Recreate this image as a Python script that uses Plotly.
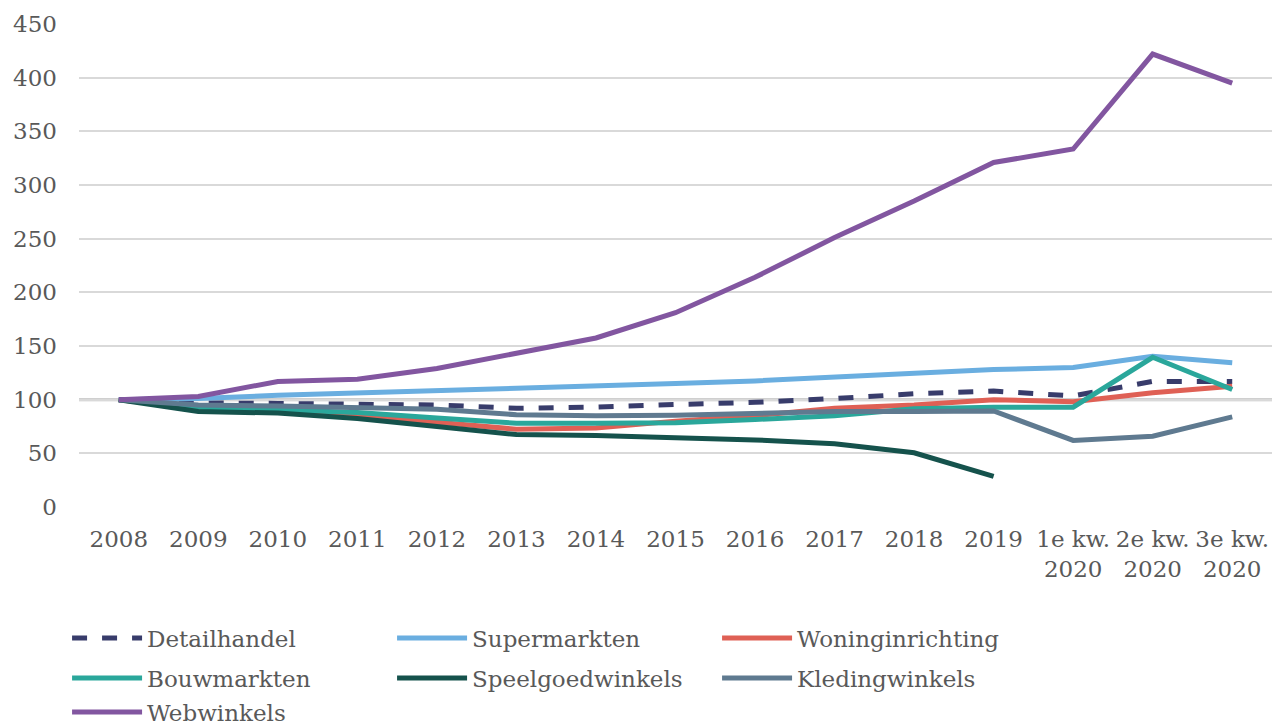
import plotly.graph_objects as go

categories = ["2008", "2009", "2010", "2011", "2012", "2013", "2014", "2015",
              "2016", "2017", "2018", "2019",
              "1e kw.<br>2020", "2e kw.<br>2020", "3e kw.<br>2020"]

detailhandel = [100, 97, 96.5, 96, 95, 92, 93, 95.5, 97.5, 101, 105.5, 108, 103.5, 117, 117]
supermarkten = [100, 101, 104, 106, 109, 110.5, 112.5, 115, 117.5, 121, 125.5, 128, 130, 140.5, 134.5]
woninginrichting = [100, 92, 90, 86, 79, 72.5, 73.5, 80, 85, 92, 95, 100, 98, 106.5, 112.5]
bouwmarkten = [100, 93, 90.5, 88, 83, 78, 78, 78.5, 81.5, 85, 91.5, 93, 93, 139.5, 109.5]
speelgoedwinkels = [100, 89, 87.5, 82.5, 75, 67.5, 66.5, 64.5, 62.5, 59, 50.5, 28.5, None, None, None]
kledingwinkels = [100, 95, 94, 93, 91, 86, 85, 85.5, 87.5, 89, 89, 89.5, 62, 66, 84]
webwinkels = [100, 103, 117, 119, 129, 143, 157.5, 181, 214, 251, 285, 321, 333.5, 422, 395]

y_ticks = [0, 50, 100, 150, 200, 250, 300, 350, 400, 450]

series = [
    ("Detailhandel", detailhandel, "#383c6b", "dash", "legend"),
    ("Supermarkten", supermarkten, "#6aaee0", "solid", "legend"),
    ("Woninginrichting", woninginrichting, "#df6055", "solid", "legend"),
    ("Bouwmarkten", bouwmarkten, "#2aa79b", "solid", "legend2"),
    ("Speelgoedwinkels", speelgoedwinkels, "#15524c", "solid", "legend2"),
    ("Kledingwinkels", kledingwinkels, "#5f7a90", "solid", "legend2"),
    ("Webwinkels", webwinkels, "#8256a0", "solid", "legend3"),
]

FONT = "DejaVu Serif"
TXT = "#595959"
FS = 23

fig = go.Figure()
for name, vals, color, dash, lg in series:
    fig.add_trace(go.Scatter(
        x=categories, y=vals, name=name, mode="lines",
        line=dict(color=color, width=5, dash=dash),
        legend=lg, connectgaps=False,
    ))

fig.add_hline(y=100, line=dict(color="#bfbfbf", width=3), layer="below")

leg_common = dict(orientation="h", xanchor="left", yanchor="middle",
                  font=dict(family=FONT, size=FS, color=TXT),
                  entrywidth=240, entrywidthmode="pixels",
                  bgcolor="rgba(0,0,0,0)", itemwidth=70)

fig.update_layout(
    width=1272, height=727,
    margin=dict(l=79, r=0, t=24, b=220, autoexpand=False),
    paper_bgcolor="white", plot_bgcolor="white",
    font=dict(family=FONT, size=FS, color=TXT),
    showlegend=True,
    legend=dict(x=-0.01, y=-0.2712, **leg_common),
    legend2=dict(x=-0.01, y=-0.354, **leg_common),
    legend3=dict(x=-0.01, y=-0.4244, **leg_common),
    xaxis=dict(
        type="category", range=[-0.5, len(categories) - 0.5],
        showgrid=False, showline=False, zeroline=False,
        tickfont=dict(family=FONT, size=FS, color=TXT),
        ticklabelstandoff=16,
    ),
    yaxis=dict(
        range=[0, 450], tickvals=y_ticks, showgrid=True,
        gridcolor="#d9d9d9", gridwidth=1.5, zeroline=False, showline=False,
        tickfont=dict(family=FONT, size=FS, color=TXT),
        ticklabelstandoff=21,
    ),
)

fig.write_html("out.html", config={"displayModeBar": False},
               post_script="document.body.style.margin='0';document.body.style.overflow='hidden';")
